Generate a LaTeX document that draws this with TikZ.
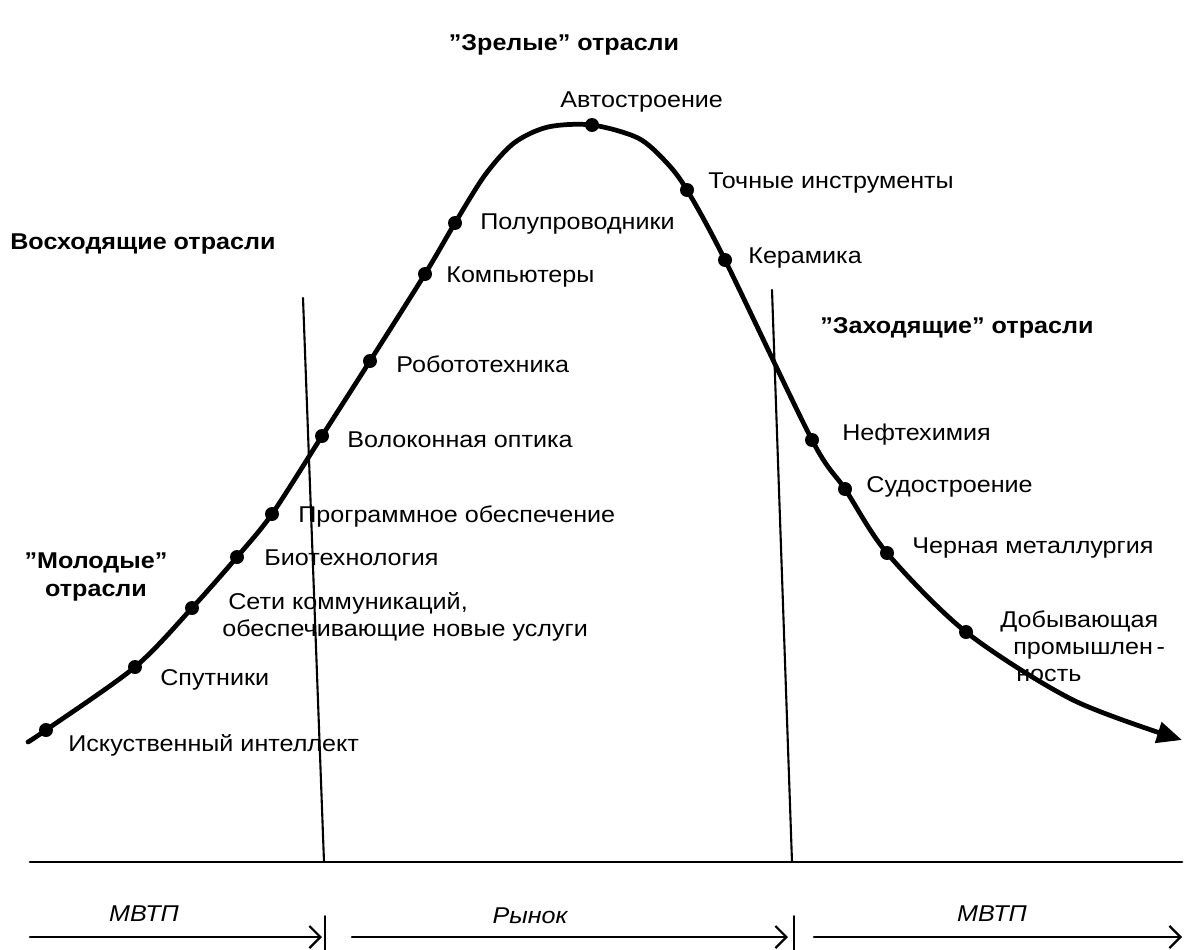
\documentclass[tikz,border=0pt]{standalone}
\usepackage{fontspec}
\setmainfont{Liberation Sans}[FakeStretch=1.1]
\usetikzlibrary{arrows.meta,positioning}

\tikzset{
  every picture/.style = {line join=round, line cap=round},
  branch/.style = {font=\fontsize{13}{15.5}\selectfont, inner sep=0pt, anchor=west, align=left},
  group label/.style = {font=\bfseries\fontsize{13}{15.5}\selectfont, inner sep=0pt, align=center},
  zone label/.style = {font=\itshape\fontsize{13}{15.5}\selectfont, inner sep=0pt},
  dot/.style = {circle, fill=black, inner sep=0pt, minimum size=2.8mm},
  life curve/.style = {line width=2.7pt, -{Triangle[length=5mm,width=4.2mm]}},
  border/.style = {line width=1.2pt},
  axis line/.style = {line width=1.6pt},
  zone arrow/.style = {line width=1.3pt, -{Straight Barb[length=2.2mm,width=4.4mm]}},
  zone tick/.style = {line width=1.1pt},
}

\begin{document}
\begin{tikzpicture}[x=0.02cm,y=-0.02cm]
  \useasboundingbox (0,0) rectangle (1187,950);

  % industries on the curve
  \node[dot] (ai)    at (46,730)  {};
  \node[dot] (sat)   at (135,667) {};
  \node[dot] (net)   at (192,608) {};
  \node[dot] (bio)   at (237,557) {};
  \node[dot] (soft)  at (272,514) {};
  \node[dot] (fib)   at (322,436) {};
  \node[dot] (rob)   at (370,361) {};
  \node[dot] (comp)  at (425,274) {};
  \node[dot] (semi)  at (455,223) {};
  \node[dot] (auto)  at (592,125) {};
  \node[dot] (tool)  at (687,190) {};
  \node[dot] (cer)   at (725,260) {};
  \node[dot] (petro) at (812,440) {};
  \node[dot] (ship)  at (845,489) {};
  \node[dot] (steel) at (887,553) {};
  \node[dot] (mine)  at (966,632) {};

  \coordinate (c-start) at (28,742);
  \coordinate (c-up1)   at (485,175);
  \coordinate (c-up2)   at (514,143);
  \coordinate (c-up3)   at (548,127);
  \coordinate (c-down1) at (638,138);
  \coordinate (c-down2) at (666,162);
  \coordinate (c-tail)  at (1073,700);
  \coordinate (c-end)   at (1182,740);

  \draw[life curve] plot[smooth, tension=0.5] coordinates {
    (c-start) (ai.center) (sat.center) (net.center) (bio.center) (soft.center)
    (fib.center) (rob.center) (comp.center) (semi.center) (c-up1) (c-up2) (c-up3)
    (auto.center) (c-down1) (c-down2) (tool.center) (cer.center) (petro.center)
    (ship.center) (steel.center) (mine.center) (c-tail) (c-end)};

  \node[branch] (l-ai)    at (68,745)  {Искуственный интеллект};
  \node[branch] (l-sat)   at (160,680) {Спутники};
  \node[branch] (l-net)   at (222,617) {\hspace*{0.12cm}Сети коммуникаций,\\обеспечивающие новые услуги};
  \node[branch] (l-bio)   at (264,558) {Биотехнология};
  \node[branch] (l-soft)  at (298,516) {Программное обеспечение};
  \node[branch] (l-fib)   at (347,440) {Волоконная оптика};
  \node[branch] (l-rob)   at (396,364) {Робототехника};
  \node[branch] (l-comp)  at (446,277) {Компьютеры};
  \node[branch] (l-semi)  at (480,224) {Полупроводники};
  \node[branch] (l-auto)  at (560,102) {Автостроение};
  \node[branch] (l-tool)  at (708,183) {Точные инструменты};
  \node[branch] (l-cer)   at (748,258) {Керамика};
  \node[branch] (l-petro) at (842,435) {Нефтехимия};
  \node[branch] (l-ship)  at (866,487) {Судостроение};
  \node[branch] (l-steel) at (912,548) {Черная металлургия};
  \node[branch] (l-mine)  at (1000,646) {Добывающая\\\hspace*{0.26cm}промышлен\,-\\\hspace*{0.32cm}ность};

  % groups of industries
  \node[group label] (g-mature) at (564,45)  {''Зрелые'' отрасли};
  \node[group label, anchor=west] (g-rising) at (10,244) {Восходящие отрасли};
  \node[group label, anchor=west] (g-setting) at (820,328) {''Заходящие'' отрасли};
  \node[group label] (g-young) at (96,577) {''Молодые''\\отрасли};

  % borders of the market zone
  \coordinate (b1-top) at (303,298);
  \coordinate (b1-bot) at (324,862);
  \coordinate (b2-top) at (772,290);
  \coordinate (b2-bot) at (792,862);
  \draw[border] (b1-top) -- (b1-bot);
  \draw[border] (b2-top) -- (b2-bot);

  \coordinate (ax-l) at (30,862);
  \coordinate (ax-r) at (1182,862);
  \draw[axis line] (ax-l) -- (ax-r);

  % zones
  \coordinate (z1-s) at (30,937);
  \coordinate (z1-e) at (322,937);
  \coordinate (z2-s) at (352,937);
  \coordinate (z2-e) at (788,937);
  \coordinate (z3-s) at (814,937);
  \coordinate (z3-e) at (1182,937);
  \draw[zone arrow] (z1-s) -- (z1-e);
  \draw[zone arrow] (z2-s) -- (z2-e);
  \draw[zone arrow] (z3-s) -- (z3-e);
  \draw[zone tick] (325,916) -- (325,950);
  \draw[zone tick] (794,916) -- (794,950);

  \node[zone label] (zn-1) at (144,914) {МВТП};
  \node[zone label] (zn-2) at (530,916) {Рынок};
  \node[zone label] (zn-3) at (992,914) {МВТП};
\end{tikzpicture}
\end{document}
